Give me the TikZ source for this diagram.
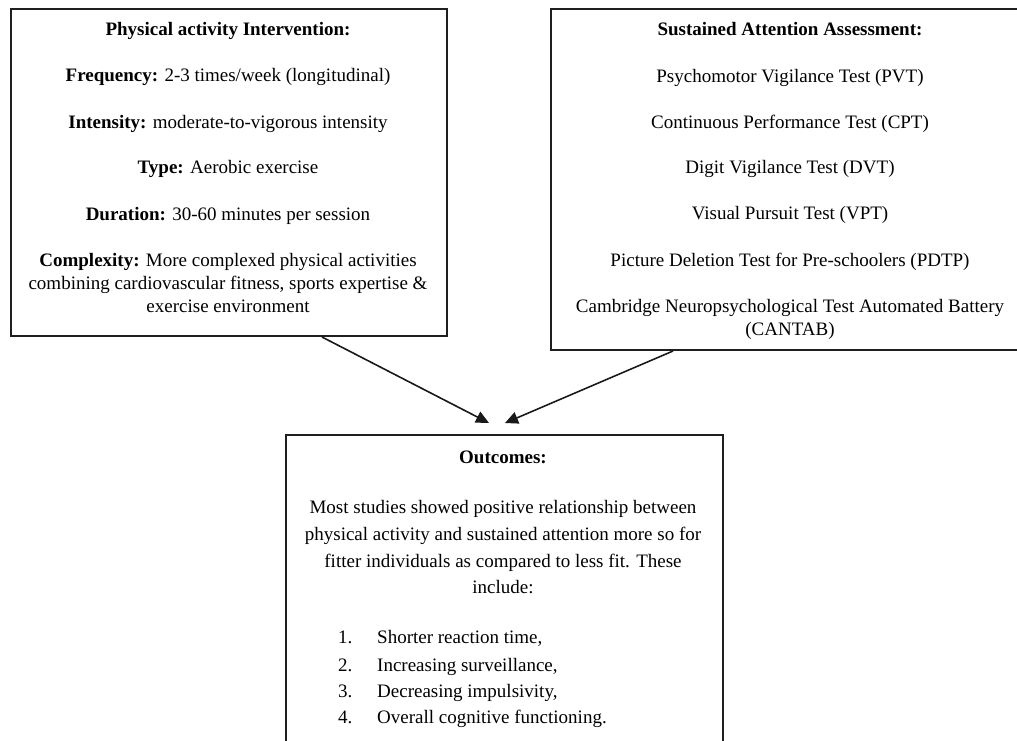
\documentclass[tikz,border=0pt]{standalone}
\usepackage{fontspec}
\setmainfont{Liberation Serif}
\usetikzlibrary{arrows.meta}
\begin{document}
\begin{tikzpicture}[x=1pt,y=-1pt,
  boxstyle/.style={draw=black!88, line width=2pt, inner sep=0pt, anchor=north west},
  txt/.style={anchor=base, inner sep=0pt, font=\fontsize{19}{23}\selectfont},
  ltxt/.style={anchor=base west, inner sep=0pt, font=\fontsize{19}{23}\selectfont},
  arr/.style={line width=1.6pt, draw=black!90, -{Triangle[length=13pt,width=12pt]}}]
\useasboundingbox (0,0) rectangle (1017,740);
\clip (0,0) rectangle (1017,740);
% boxes
\node[boxstyle, minimum width=436pt, minimum height=327pt] (pa) at (10,8) {};
\node[boxstyle, minimum width=480pt, minimum height=341pt] (sa) at (550,8) {};
\node[boxstyle, minimum width=437pt, minimum height=326pt] (oc) at (285,434) {};
% box 1 text
\node[txt] (pa0) at (228,35) {\textbf{Physical activity Intervention:}};
\node[txt] (pa1) at (228,81) {\textbf{Frequency:} 2-3 times/week (longitudinal)};
\node[txt] (pa2) at (228,128) {\textbf{Intensity:} moderate-to-vigorous intensity};
\node[txt] (pa3) at (228,173) {\textbf{Type:} Aerobic exercise};
\node[txt] (pa4) at (228,220) {\textbf{Duration:} 30-60 minutes per session};
\node[txt] (pa5) at (228,266) {\textbf{Complexity:} More complexed physical activities};
\node[txt] (pa6) at (228,289) {combining cardiovascular fitness, sports expertise \&};
\node[txt] (pa7) at (228,312) {exercise environment};
% box 2 text
\node[txt] (sa0) at (790,35) {\textbf{Sustained Attention Assessment:}};
\node[txt] (sa1) at (790,82) {Psychomotor Vigilance Test (PVT)};
\node[txt] (sa2) at (790,128) {Continuous Performance Test (CPT)};
\node[txt] (sa3) at (790,173) {Digit Vigilance Test (DVT)};
\node[txt] (sa4) at (790,219) {Visual Pursuit Test (VPT)};
\node[txt] (sa5) at (790,266) {Picture Deletion Test for Pre-schoolers (PDTP)};
\node[txt] (sa6) at (790,312) {Cambridge Neuropsychological Test Automated Battery};
\node[txt] (sa7) at (790,335) {(CANTAB)};
% box 3 text
\node[txt] (oc0) at (503,463) {\textbf{Outcomes:}};
\node[txt] (oc1) at (503,513) {Most studies showed positive relationship between};
\node[txt] (oc2) at (503,540) {physical activity and sustained attention more so for};
\node[txt] (oc3) at (503,567) {fitter individuals as compared to less fit. These};
\node[txt] (oc4) at (503,593) {include:};
\node[ltxt] (n1) at (338,643) {1.};
\node[ltxt] (n2) at (338,671) {2.};
\node[ltxt] (n3) at (338,697) {3.};
\node[ltxt] (n4) at (338,723) {4.};
\node[ltxt] (l1) at (377,643) {Shorter reaction time,};
\node[ltxt] (l2) at (377,671) {Increasing surveillance,};
\node[ltxt] (l3) at (377,697) {Decreasing impulsivity,};
\node[ltxt] (l4) at (377,723) {Overall cognitive functioning.};
% arrows
\coordinate (t1) at (489,423);
\coordinate (t2) at (505,423);
\draw[arr] ([xshift=312pt]pa.south west) -- (t1);
\draw[arr] ([xshift=123pt]sa.south west) -- (t2);
\end{tikzpicture}
\end{document}
